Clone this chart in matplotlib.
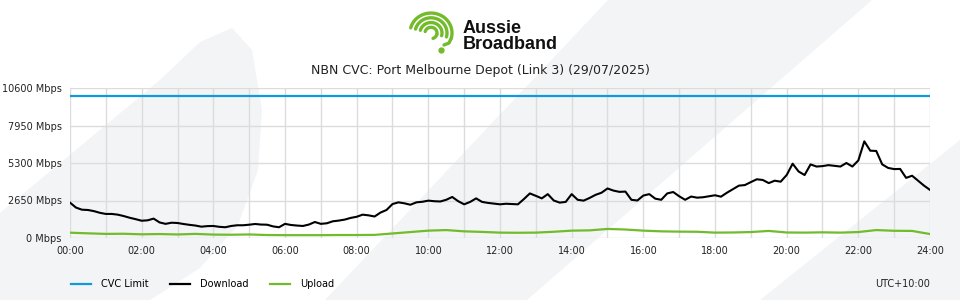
import numpy as np
import matplotlib
matplotlib.use("Agg")
import matplotlib.pyplot as plt
from matplotlib.patches import Polygon
from matplotlib.lines import Line2D

# ---- data (Mbps) ----
# download sampled every 10 minutes, 00:00 .. 24:00
download = [
    2500, 2150, 2000, 1980, 1900, 1780, 1700, 1700, 1650, 1550, 1430, 1330,
    1220, 1250, 1370, 1100, 1000, 1080, 1060, 990, 930, 880, 800, 840,
    850, 790, 760, 850, 900, 900, 940, 990, 950, 940, 820, 760,
    1000, 920, 880, 850, 950, 1130, 1000, 1040, 1180, 1230, 1300, 1420,
    1500, 1650, 1600, 1520, 1800, 1980, 2400, 2520, 2450, 2350, 2520, 2560,
    2640, 2600, 2580, 2700, 2900, 2600, 2380, 2550, 2800, 2550, 2480, 2430,
    2380, 2420, 2400, 2380, 2750, 3150, 2980, 2800, 3100, 2650, 2500, 2550,
    3100, 2700, 2640, 2830, 3050, 3200, 3500, 3350, 3260, 3280, 2700, 2650,
    3000, 3100, 2780, 2700, 3150, 3250, 2950, 2700, 2930, 2850, 2880, 2950,
    3020, 2920, 3200, 3450, 3700, 3740, 3950, 4150, 4100, 3880, 4050, 3980,
    4450, 5250, 4700, 4450, 5200, 5050, 5080, 5150, 5100, 5050, 5300, 5050,
    5480, 6830, 6170, 6150, 5200, 4950, 4870, 4880, 4250, 4400, 4050, 3700,
    3400,
]
# upload sampled every 30 minutes
upload = [
    375, 330, 290, 300, 260, 280, 250, 290, 240, 230, 250, 210,
    200, 200, 200, 210, 210, 220, 320, 420, 520, 560, 470, 430,
    380, 370, 380, 440, 520, 540, 640, 600, 520, 470, 450, 440,
    380, 390, 420, 500, 390, 380, 400, 380, 420, 560, 510, 500,
    280,
]
cvc_limit = 10000

y_ticks = [0, 2650, 5300, 7950, 10600]
x_ticks = list(range(0, 25, 2))
title = "NBN CVC: Port Melbourne Depot (Link 3) (29/07/2025)"

BLUE = "#0e9bd9"
GREEN = "#72bb2b"
GRID = "#dcdcdc"
WATERMARK = "#f3f4f6"

t_down = np.arange(len(download)) * 10 / 60
t_up = np.arange(len(upload)) * 30 / 60

fig = plt.figure(figsize=(9.6, 3.0), dpi=100)
W, H = 960, 300


def px(points):
    return [(x / W, 1 - y / H) for x, y in points]


# background watermark shapes
shapes = [
    [(0, 300), (0, 213), (160, 80), (200, 42), (232, 28), (252, 50), (262, 110),
     (258, 170), (238, 225), (200, 268), (150, 300)],
    [(608, 0), (872, 0), (527, 300), (325, 300)],
    [(960, 140), (960, 300), (760, 300)],
]
for s in shapes:
    fig.add_artist(Polygon(px(s), closed=True, transform=fig.transFigure,
                           facecolor=WATERMARK, edgecolor="none", zorder=0))

ax = fig.add_axes([70 / W, 1 - 238 / H, 860 / W, 150 / H])
ax.set_facecolor("none")
ax.plot([0, 24], [cvc_limit, cvc_limit], color=BLUE, lw=1.6, label="CVC Limit")
ax.plot(t_down, download, color="black", lw=1.5, label="Download")
ax.plot(t_up, upload, color=GREEN, lw=1.6, label="Upload")

ax.set_xlim(0, 24)
ax.set_ylim(0, 10600)
ax.set_xticks(x_ticks)
ax.set_xticklabels([f"{h:02d}:00" for h in x_ticks])
ax.set_xticks(range(0, 25), minor=True)
ax.set_yticks(y_ticks)
ax.set_yticklabels([f"{v} Mbps" for v in y_ticks])
ax.tick_params(axis="both", which="both", length=0, labelsize=7, colors="#222222")
ax.tick_params(axis="x", pad=6)
ax.tick_params(axis="y", pad=6)
ax.grid(True, which="both", color=GRID, lw=1)
ax.set_axisbelow(True)
for sp in ax.spines.values():
    sp.set_visible(False)

fig.text(480 / W, 1 - 70 / H, title, ha="center", va="center", fontsize=9, color="#222222")

# logo: nested green arcs with a dot, drawn in pixel-like coords
lax = fig.add_axes([398 / W, 1 - 56 / H, 60 / W, 50 / H])
lax.set_xlim(398, 458)
lax.set_ylim(56, 6)
lax.axis("off")
cx, cy = 431, 33
for r in [6, 11, 16, 21]:
    a = np.radians(np.linspace(165, -15, 50))
    lax.plot(cx + r * np.cos(a), cy - r * 0.95 * np.sin(a), color=GREEN,
             lw=2.4, solid_capstyle="round")
a = np.radians(np.linspace(-15, -70, 20))
lax.plot(cx + 6 * np.cos(a), cy - 6 * 0.95 * np.sin(a), color=GREEN, lw=2.4,
         solid_capstyle="round")
lax.plot([cx + 21 * np.cos(np.radians(-15)), 449, 444],
         [cy + 21 * 0.95 * np.sin(np.radians(15)), 43, 45], color=GREEN, lw=2.4,
         solid_capstyle="round")
lax.plot([441], [50], "o", color=GREEN, ms=3.5)

fig.text(463 / W, 1 - 33 / H, "Aussie", fontsize=13, fontweight="bold",
         family="Liberation Sans", color="#111111", va="baseline")
fig.text(463 / W, 1 - 49 / H, "Broadband", fontsize=13, fontweight="bold",
         family="Liberation Sans", color="#111111", va="baseline")

# legend
handles = [Line2D([], [], color=BLUE, lw=1.6), Line2D([], [], color="black", lw=1.6),
           Line2D([], [], color=GREEN, lw=1.6)]
fig.legend(handles, ["CVC Limit", "Download", "Upload"], loc="center left",
           bbox_to_anchor=(62 / W, 1 - 284 / H), ncol=3, frameon=False, fontsize=7,
           handlelength=2.1, handletextpad=1.0, columnspacing=2.2)
fig.text(930 / W, 1 - 284 / H, "UTC+10:00", ha="right", va="center", fontsize=7, color="#222222")

fig.savefig("out.png", dpi=100)
